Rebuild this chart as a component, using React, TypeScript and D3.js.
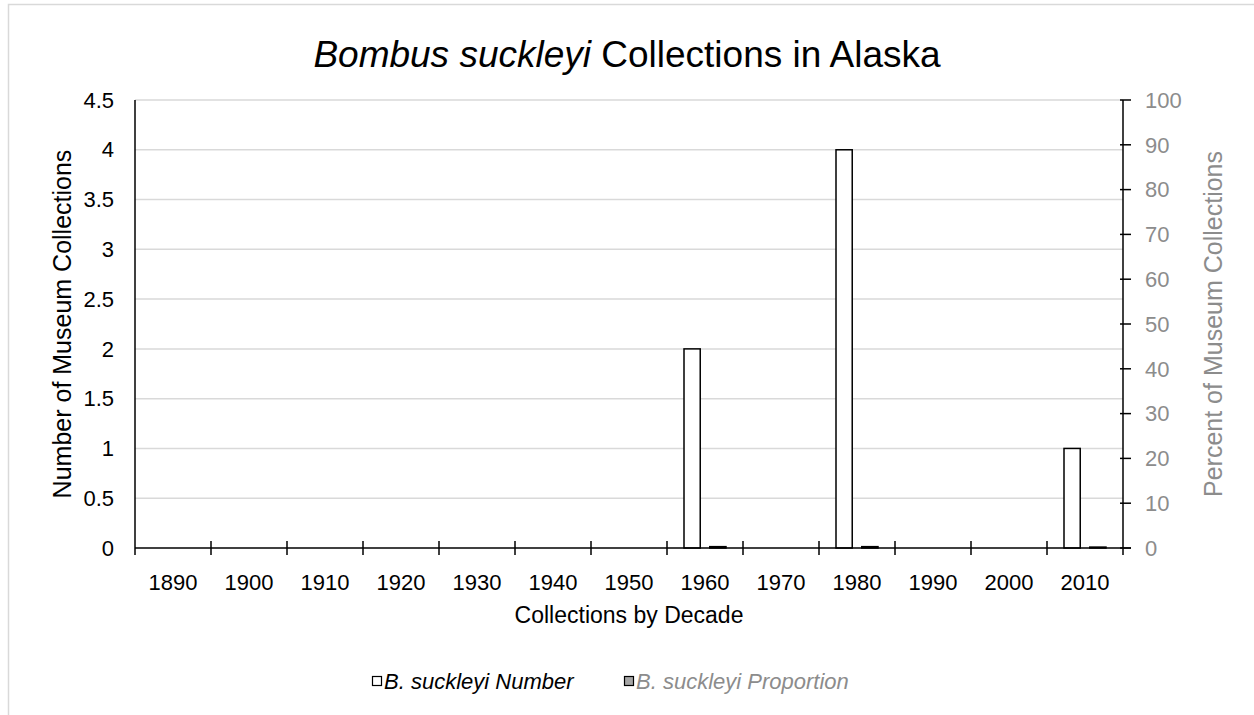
import { useEffect, useRef } from 'react';
import * as d3 from 'd3';

const decades = ['1890', '1900', '1910', '1920', '1930', '1940', '1950', '1960', '1970', '1980', '1990', '2000', '2010'];
const numberValues = [0, 0, 0, 0, 0, 0, 0, 2, 0, 4, 0, 0, 1];
const proportionValues = [0, 0, 0, 0, 0, 0, 0, 0.3, 0, 0.3, 0, 0, 0.2];
const leftTicks = [0, 0.5, 1, 1.5, 2, 2.5, 3, 3.5, 4, 4.5];
const rightTicks = [0, 10, 20, 30, 40, 50, 60, 70, 80, 90, 100];

const FONT = '"Liberation Sans", Arial, sans-serif';
const GREY = '#8c8c8c';

const App = () => {
  const ref = useRef<SVGSVGElement>(null);

  useEffect(() => {
    if (!ref.current) return;
    const svg = d3.select(ref.current);
    svg.selectAll('*').remove();

    const left = 135;
    const right = 1123;
    const top = 100;
    const bottom = 548;

    // outer chart frame (only top and left edges fall inside the picture)
    svg.append('rect')
      .attr('x', 8.5).attr('y', 4.5)
      .attr('width', 1400).attr('height', 1000)
      .attr('fill', '#fff').attr('stroke', '#d9d9d9').attr('stroke-width', 1.5);

    const x = d3.scaleBand().domain(decades).range([left, right]).padding(0);
    const inner = d3.scaleBand().domain(['num', 'prop'])
      .range([0, x.bandwidth()]).paddingInner(0.37).paddingOuter(0.66);
    const yL = d3.scaleLinear().domain([0, 4.5]).range([bottom, top]);
    const yR = d3.scaleLinear().domain([0, 100]).range([bottom, top]);

    // gridlines
    svg.append('g').selectAll('line').data(leftTicks.filter(d => d > 0)).enter()
      .append('line')
      .attr('x1', left).attr('x2', right)
      .attr('y1', d => yL(d)).attr('y2', d => yL(d))
      .attr('stroke', '#d9d9d9').attr('stroke-width', 1.5);

    const data = decades.map((d, i) => ({ d, n: numberValues[i], p: proportionValues[i] }));

    // number bars
    svg.append('g').selectAll('rect').data(data.filter(r => r.n > 0)).enter()
      .append('rect')
      .attr('x', r => (x(r.d) || 0) + (inner('num') || 0))
      .attr('y', r => yL(r.n))
      .attr('width', inner.bandwidth())
      .attr('height', r => bottom - yL(r.n))
      .attr('fill', '#fff').attr('stroke', '#000').attr('stroke-width', 1.5);

    // proportion bars (right axis)
    svg.append('g').selectAll('rect').data(data.filter(r => r.p > 0)).enter()
      .append('rect')
      .attr('x', r => (x(r.d) || 0) + (inner('prop') || 0))
      .attr('y', r => yR(r.p))
      .attr('width', inner.bandwidth())
      .attr('height', r => bottom - yR(r.p))
      .attr('fill', '#a6a6a6').attr('stroke', '#000').attr('stroke-width', 1.5);

    // left axis
    svg.append('line')
      .attr('x1', left).attr('x2', left).attr('y1', top).attr('y2', bottom + 7)
      .attr('stroke', '#000').attr('stroke-width', 1.5);
    svg.append('g').selectAll('text').data(leftTicks).enter()
      .append('text')
      .attr('x', 114).attr('y', d => yL(d))
      .attr('dy', '0.35em').attr('text-anchor', 'end')
      .attr('font-family', FONT).attr('font-size', 22).attr('fill', '#000')
      .text(d => String(d));

    // right axis
    svg.append('line')
      .attr('x1', right).attr('x2', right).attr('y1', top).attr('y2', bottom + 7)
      .attr('stroke', '#000').attr('stroke-width', 1.5);
    svg.append('g').selectAll('line').data(rightTicks).enter()
      .append('line')
      .attr('x1', right - 3).attr('x2', right + 8)
      .attr('y1', d => yR(d)).attr('y2', d => yR(d))
      .attr('stroke', '#000').attr('stroke-width', 1.5);
    svg.append('g').selectAll('text').data(rightTicks).enter()
      .append('text')
      .attr('x', 1145).attr('y', d => yR(d))
      .attr('dy', '0.35em').attr('text-anchor', 'start')
      .attr('font-family', FONT).attr('font-size', 22).attr('fill', GREY)
      .text(d => String(d));

    // x axis
    svg.append('line')
      .attr('x1', left).attr('x2', right + 8).attr('y1', bottom).attr('y2', bottom)
      .attr('stroke', '#000').attr('stroke-width', 1.5);
    svg.append('g').selectAll('line').data(decades.slice(1)).enter()
      .append('line')
      .attr('x1', d => x(d) || 0).attr('x2', d => x(d) || 0)
      .attr('y1', bottom - 7).attr('y2', bottom + 7)
      .attr('stroke', '#000').attr('stroke-width', 1.5);
    svg.append('g').selectAll('text').data(decades).enter()
      .append('text')
      .attr('x', d => (x(d) || 0) + x.bandwidth() / 2).attr('y', 582)
      .attr('dy', '0.35em').attr('text-anchor', 'middle')
      .attr('font-family', FONT).attr('font-size', 22).attr('fill', '#000')
      .text(d => d);

    // axis titles
    svg.append('text')
      .attr('x', (left + right) / 2).attr('y', 615).attr('dy', '0.35em')
      .attr('text-anchor', 'middle')
      .attr('font-family', FONT).attr('font-size', 23).attr('fill', '#000')
      .text('Collections by Decade');
    svg.append('text')
      .attr('transform', `translate(62,${(top + bottom) / 2}) rotate(-90)`)
      .attr('dy', '0.35em').attr('text-anchor', 'middle')
      .attr('font-family', FONT).attr('font-size', 25).attr('fill', '#000')
      .text('Number of Museum Collections');
    svg.append('text')
      .attr('transform', `translate(1213,${(top + bottom) / 2}) rotate(-90)`)
      .attr('dy', '0.35em').attr('text-anchor', 'middle')
      .attr('font-family', FONT).attr('font-size', 25).attr('fill', GREY)
      .text('Percent of Museum Collections');

    // title
    const title = svg.append('text')
      .attr('x', 627).attr('y', 54).attr('dy', '0.35em')
      .attr('text-anchor', 'middle')
      .attr('font-family', FONT).attr('font-size', 37).attr('fill', '#000');
    title.append('tspan').attr('font-style', 'italic').text('Bombus suckleyi');
    title.append('tspan').text(' Collections in Alaska');

    // legend
    const legend = [
      { label: 'B. suckleyi Number', fill: '#fff', color: '#000', x: 372 },
      { label: 'B. suckleyi Proportion', fill: '#a6a6a6', color: GREY, x: 624 },
    ];
    const lg = svg.append('g').selectAll('g').data(legend).enter().append('g');
    lg.append('rect')
      .attr('x', d => d.x + 0.5).attr('y', 676.5)
      .attr('width', 9).attr('height', 9)
      .attr('fill', d => d.fill).attr('stroke', '#000').attr('stroke-width', 1.2);
    lg.append('text')
      .attr('x', d => d.x + 12).attr('y', 681).attr('dy', '0.35em')
      .attr('font-family', FONT).attr('font-size', 22).attr('font-style', 'italic')
      .attr('fill', d => d.color)
      .text(d => d.label);
  }, []);

  return (
    <svg
      ref={ref}
      width={1254}
      height={715}
      style={{ position: 'absolute', left: 0, top: 0, background: '#fff' }}
    />
  );
};

export default App;
